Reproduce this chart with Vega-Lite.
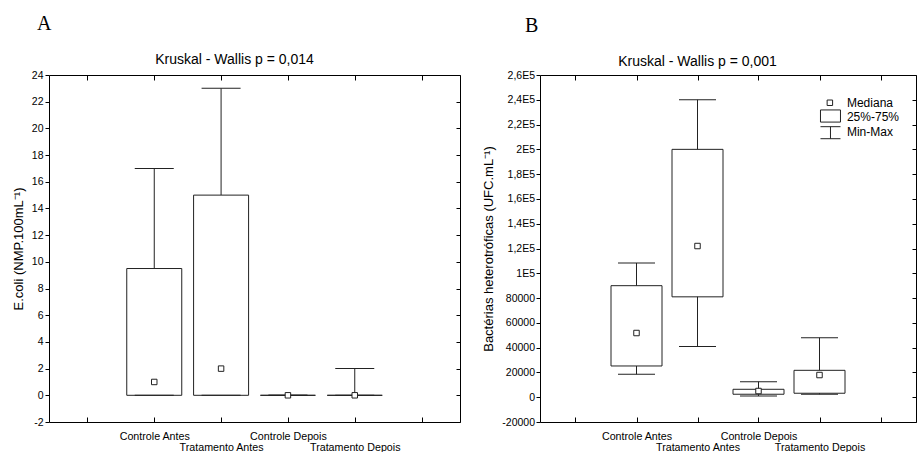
{
  "$schema": "https://vega.github.io/schema/vega-lite/v6.json",
  "background": "white",
  "padding": {"left": 12, "top": 14, "right": 0, "bottom": 0},
  "spacing": 80,
  "bounds": "flush",
  "config": {
    "font": "Liberation Sans",
    "view": {"stroke": null},
    "axis": {"domainColor": "#000", "tickColor": "#000", "labelColor": "#000", "titleColor": "#000", "grid": false, "titleFontWeight": "normal", "labelFont": "Liberation Sans", "titleFont": "Liberation Sans", "domainWidth": 1, "tickWidth": 1}
  },
  "datasets": {
    "boxes": [
      {"panel": "A", "pos": 1, "grupo": "Controle Antes", "min": 0, "q1": 0, "median": 1, "q3": 9.5, "max": 17},
      {"panel": "A", "pos": 2, "grupo": "Tratamento Antes", "min": 0, "q1": 0, "median": 2, "q3": 15, "max": 23},
      {"panel": "A", "pos": 3, "grupo": "Controle Depois", "min": 0, "q1": 0, "median": 0, "q3": 0, "max": 0},
      {"panel": "A", "pos": 4, "grupo": "Tratamento Depois", "min": 0, "q1": 0, "median": 0, "q3": 0, "max": 2},
      {"panel": "B", "pos": 1, "grupo": "Controle Antes", "min": 18500, "q1": 25200, "median": 51800, "q3": 90000, "max": 108300},
      {"panel": "B", "pos": 2, "grupo": "Tratamento Antes", "min": 41000, "q1": 81000, "median": 122000, "q3": 200000, "max": 240000},
      {"panel": "B", "pos": 3, "grupo": "Controle Depois", "min": 1000, "q1": 2400, "median": 5000, "q3": 6400, "max": 12500},
      {"panel": "B", "pos": 4, "grupo": "Tratamento Depois", "min": 2400, "q1": 3200, "median": 17900, "q3": 21700, "max": 48000}
    ]
  },
  "hconcat": [
    {
      "width": 411,
      "height": 347,
      "title": {"text": "A", "anchor": "start", "frame": "group", "dx": -12, "font": "Liberation Serif", "fontSize": 20, "fontWeight": "normal", "color": "#000", "baseline": "alphabetic", "offset": 2},
      "data": {"name": "boxes"},
      "transform": [{"filter": "datum.panel == 'A'"}],
      "resolve": {"axis": {"x": "independent", "y": "independent"}},
      "layer": [
        {
          "mark": {"type": "rule", "color": "#222", "strokeWidth": 1},
          "encoding": {
            "x": {"field": "pos", "type": "quantitative", "scale": {"domain": [-0.5, 5.5], "nice": false, "zero": false},
              "axis": {"orient": "bottom", "values": [0, 1, 2, 3, 4, 5], "tickSize": -5, "labelPadding": 14, "labelBaseline": "top", "labelFontSize": 10.7, "labelLineHeight": 11, "labelOverlap": false, "labelFlush": false, "labelBound": false, "title": null,
                "labelExpr": "datum.value == 1 ? 'Controle Antes' : datum.value == 2 ? ['', 'Tratamento Antes'] : datum.value == 3 ? 'Controle Depois' : datum.value == 4 ? ['', 'Tratamento Depois'] : ''"}},
            "y": {"field": "min", "type": "quantitative", "scale": {"domain": [-2, 24], "nice": false, "zero": false},
              "axis": {"orient": "left", "values": [-2, 0, 2, 4, 6, 8, 10, 12, 14, 16, 18, 20, 22, 24], "labelExpr": "'' + datum.value", "tickSize": 4, "labelPadding": 2, "labelFontSize": 10.5, "title": "E.coli (NMP.100mL⁻¹)", "titleFontSize": 13, "titlePadding": 6}},
            "y2": {"field": "max"}
          }
        },
        {
          "mark": {"type": "bar", "orient": "vertical", "size": 55, "fill": "white", "stroke": "#222", "strokeWidth": 1},
          "encoding": {
            "x": {"field": "pos", "type": "quantitative",
              "axis": {"orient": "top", "values": [0, 1, 2, 3, 4, 5], "tickSize": -5, "labels": false, "title": "Kruskal - Wallis p = 0,014", "titleFontSize": 14, "titleX": 185, "titleY": -12, "titleAlign": "center", "titleBaseline": "alphabetic"}},
            "y": {"field": "q1", "type": "quantitative",
              "axis": {"orient": "right", "values": [-2, 0, 2, 4, 6, 8, 10, 12, 14, 16, 18, 20, 22, 24], "tickSize": -4, "labels": false, "title": null}},
            "y2": {"field": "q3"}
          }
        },
        {
          "mark": {"type": "tick", "orient": "horizontal", "size": 39, "thickness": 1, "color": "#222", "opacity": 1},
          "encoding": {
            "x": {"field": "pos", "type": "quantitative", "axis": null},
            "y": {"field": "min", "type": "quantitative", "axis": null}
          }
        },
        {
          "mark": {"type": "tick", "orient": "horizontal", "size": 39, "thickness": 1, "color": "#222", "opacity": 1},
          "encoding": {
            "x": {"field": "pos", "type": "quantitative", "axis": null},
            "y": {"field": "max", "type": "quantitative", "axis": null}
          }
        },
        {
          "mark": {"type": "point", "shape": "square", "size": 30, "filled": true, "fill": "white", "stroke": "#222", "strokeWidth": 1, "opacity": 1},
          "encoding": {
            "x": {"field": "pos", "type": "quantitative", "axis": null},
            "y": {"field": "median", "type": "quantitative", "axis": null}
          }
        }
      ]
    },
    {
      "width": 376,
      "height": 347,
      "title": {"text": "B", "anchor": "start", "frame": "group", "dx": -15, "font": "Liberation Serif", "fontSize": 20, "fontWeight": "normal", "color": "#000", "baseline": "alphabetic", "offset": 2},
      "data": {"name": "boxes"},
      "transform": [{"filter": "datum.panel == 'B'"}],
      "resolve": {"axis": {"x": "independent", "y": "independent"}},
      "layer": [
        {
          "mark": {"type": "rule", "color": "#222", "strokeWidth": 1},
          "encoding": {
            "x": {"field": "pos", "type": "quantitative", "scale": {"domain": [-0.5, 5.5], "nice": false, "zero": false},
              "axis": {"orient": "bottom", "values": [0, 1, 2, 3, 4, 5], "tickSize": -5, "labelPadding": 14, "labelBaseline": "top", "labelFontSize": 10.7, "labelLineHeight": 11, "labelOverlap": false, "labelFlush": false, "labelBound": false, "title": null,
                "labelExpr": "datum.value == 1 ? 'Controle Antes' : datum.value == 2 ? ['', 'Tratamento Antes'] : datum.value == 3 ? 'Controle Depois' : datum.value == 4 ? ['', 'Tratamento Depois'] : ''"}},
            "y": {"field": "min", "type": "quantitative", "scale": {"domain": [-20000, 260000], "nice": false, "zero": false},
              "axis": {"orient": "left", "values": [-20000, 0, 20000, 40000, 60000, 80000, 100000, 120000, 140000, 160000, 180000, 200000, 220000, 240000, 260000], "labelExpr": "datum.value >= 100000 ? replace(format(datum.value / 100000, '.1~f'), '.', ',') + 'E5' : '' + datum.value", "tickSize": 4, "labelPadding": 1.5, "labelFontSize": 10.5, "title": "Bactérias heterotróficas (UFC.mL⁻¹)", "titleFontSize": 13, "titlePadding": 6}},
            "y2": {"field": "max"}
          }
        },
        {
          "mark": {"type": "bar", "orient": "vertical", "size": 51, "fill": "white", "stroke": "#222", "strokeWidth": 1},
          "encoding": {
            "x": {"field": "pos", "type": "quantitative",
              "axis": {"orient": "top", "values": [0, 1, 2, 3, 4, 5], "tickSize": -5, "labels": false, "title": "Kruskal - Wallis p = 0,001", "titleFontSize": 14, "titleX": 157, "titleY": -10, "titleAlign": "center", "titleBaseline": "alphabetic"}},
            "y": {"field": "q1", "type": "quantitative",
              "axis": {"orient": "right", "values": [-20000, 0, 20000, 40000, 60000, 80000, 100000, 120000, 140000, 160000, 180000, 200000, 220000, 240000, 260000], "tickSize": -4, "labels": false, "title": null}},
            "y2": {"field": "q3"}
          }
        },
        {
          "mark": {"type": "tick", "orient": "horizontal", "size": 37, "thickness": 1, "color": "#222", "opacity": 1},
          "encoding": {
            "x": {"field": "pos", "type": "quantitative", "axis": null},
            "y": {"field": "min", "type": "quantitative", "axis": null}
          }
        },
        {
          "mark": {"type": "tick", "orient": "horizontal", "size": 37, "thickness": 1, "color": "#222", "opacity": 1},
          "encoding": {
            "x": {"field": "pos", "type": "quantitative", "axis": null},
            "y": {"field": "max", "type": "quantitative", "axis": null}
          }
        },
        {
          "mark": {"type": "point", "shape": "square", "size": 30, "filled": true, "fill": "white", "stroke": "#222", "strokeWidth": 1, "opacity": 1},
          "encoding": {
            "x": {"field": "pos", "type": "quantitative", "axis": null},
            "y": {"field": "median", "type": "quantitative", "axis": null}
          }
        },
        {
          "data": {"values": [{"item": "Mediana"}]},
          "mark": {"type": "point", "shape": "square", "size": 30, "filled": true, "fill": "white", "stroke": "#222", "strokeWidth": 1, "opacity": 1},
          "encoding": {
            "x": {"datum": 4.17, "type": "quantitative", "axis": null},
            "y": {"datum": 237600, "type": "quantitative", "axis": null}
          }
        },
        {
          "data": {"values": [{"item": "25%-75%"}]},
          "mark": {"type": "bar", "orient": "vertical", "size": 20, "fill": "white", "stroke": "#222", "strokeWidth": 1},
          "encoding": {
            "x": {"datum": 4.18, "type": "quantitative", "axis": null},
            "y": {"datum": 222000, "type": "quantitative", "axis": null},
            "y2": {"datum": 231800}
          }
        },
        {
          "data": {"values": [{"item": "Min-Max"}]},
          "mark": {"type": "rule", "color": "#222", "strokeWidth": 1},
          "encoding": {
            "x": {"datum": 4.18, "type": "quantitative", "axis": null},
            "y": {"datum": 208600, "type": "quantitative", "axis": null},
            "y2": {"datum": 218300}
          }
        },
        {
          "data": {"values": [{"item": "Min-Max"}]},
          "mark": {"type": "tick", "orient": "horizontal", "size": 20, "thickness": 1, "color": "#222", "opacity": 1},
          "encoding": {
            "x": {"datum": 4.18, "type": "quantitative", "axis": null},
            "y": {"datum": 208600, "type": "quantitative", "axis": null}
          }
        },
        {
          "data": {"values": [{"item": "Min-Max"}]},
          "mark": {"type": "tick", "orient": "horizontal", "size": 20, "thickness": 1, "color": "#222", "opacity": 1},
          "encoding": {
            "x": {"datum": 4.18, "type": "quantitative", "axis": null},
            "y": {"datum": 218300, "type": "quantitative", "axis": null}
          }
        },
        {
          "data": {"values": [{"item": "Mediana", "ly": 237600}, {"item": "25%-75%", "ly": 225800}, {"item": "Min-Max", "ly": 214000}]},
          "mark": {"type": "text", "align": "left", "baseline": "middle", "fontSize": 12, "color": "#000"},
          "encoding": {
            "x": {"datum": 4.45, "type": "quantitative", "axis": null},
            "y": {"field": "ly", "type": "quantitative", "axis": null},
            "text": {"field": "item"}
          }
        }
      ]
    }
  ]
}
